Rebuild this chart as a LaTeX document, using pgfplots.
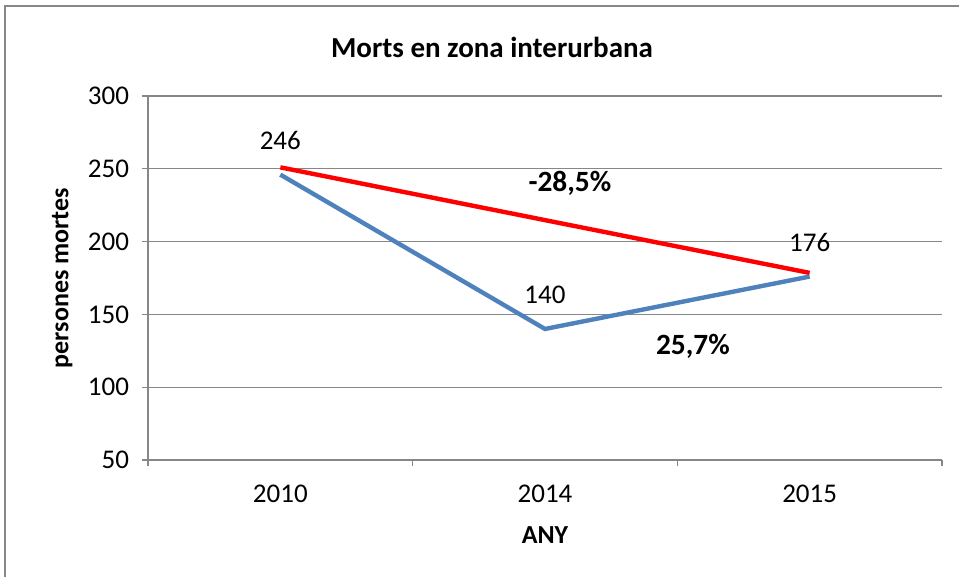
\documentclass[border=0pt]{standalone}
\usepackage{fontspec}
\setmainfont{Carlito}
\usepackage[HTML]{xcolor}
\usepackage{pgfplots}
\pgfplotsset{compat=1.18}
\definecolor{xlblue}{HTML}{4F81BD}
\definecolor{xlred}{HTML}{FF0000}
\definecolor{xlgrid}{HTML}{878787}

\begin{document}
\begin{tikzpicture}[x=0.5pt,y=0.5pt]
  % page area and chart frame
  \path[use as bounding box] (0,0) rectangle (959,-577);
  \draw[xlgrid, line width=0.7pt] (5,-577) -- (5,-6) -- (959,-6);
  \node[font=\fontsize{14.5}{17}\selectfont\bfseries] at (492,-47) {Morts en zona interurbana};
  \begin{axis}[
      at={(74pt,-230pt)}, anchor=south west,
      scale only axis,
      width=397pt, height=182pt,
      xmin=0, xmax=3,
      ymin=50, ymax=300,
      xtick={0.5,1.5,2.5},
      xticklabels={2010, 2014, 2015},
      minor xtick={0,1,2,3},
      ytick={50,100,...,300},
      tick align=outside,
      major tick length=3pt,
      minor tick length=3pt,
      x tick style={draw=none},
      minor x tick style={draw=xlgrid, line width=0.7pt},
      y tick style={draw=xlgrid, line width=0.7pt},
      ymajorgrids=true,
      grid style={xlgrid, line width=0.7pt},
      axis x line*=bottom,
      axis y line*=left,
      axis line style={xlgrid, line width=0.7pt, -},
      tick label style={font=\fontsize{13.5}{15}\selectfont, black},
      /pgf/number format/assume math mode=true,
      xticklabel style={yshift=-6pt},
      yticklabel style={xshift=-3pt},
      ylabel={persones mortes},
      xlabel={ANY},
      label style={font=\fontsize{13}{15}\selectfont\bfseries},
      ylabel style={at={(axis description cs:-0.108,0.5)}, anchor=center},
      xlabel style={at={(axis description cs:0.5,-0.206)}, anchor=center},
      clip=false,
    ]
    \addplot[color=xlblue, line width=2.2pt,
      nodes near coords,
      every node near coord/.style={anchor=center, yshift=17pt, font=\fontsize{13.5}{15}\selectfont, black},
    ] coordinates {(0.5,246) (1.5,140) (2.5,176)};
    \addplot[color=xlred, line width=2.2pt] coordinates {(0.5,251) (2.5,178.5)};
    \node[font=\fontsize{14.7}{17}\selectfont\bfseries] at (axis cs:1.594,240.2) {-28,5\%};
    \node[font=\fontsize{14.7}{17}\selectfont\bfseries] at (axis cs:2.059,128.3) {25,7\%};
  \end{axis}
\end{tikzpicture}
\end{document}
